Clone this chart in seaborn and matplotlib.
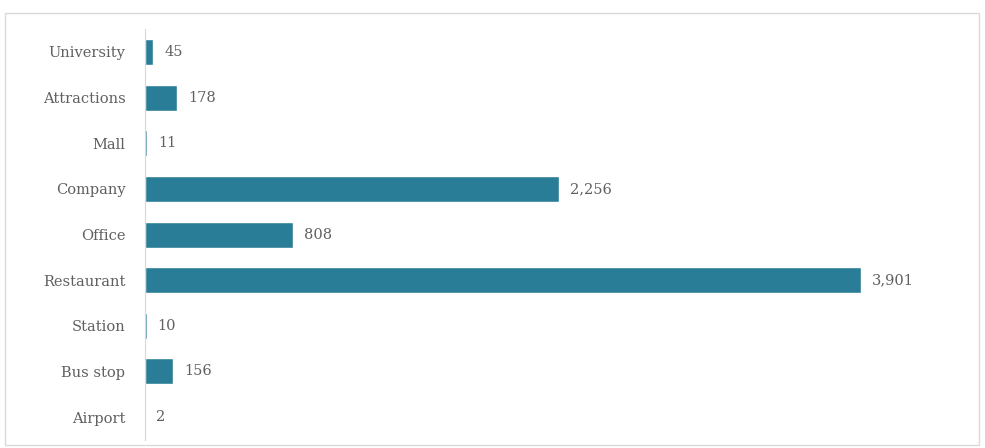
import matplotlib
matplotlib.use("Agg")
import matplotlib.pyplot as plt
import seaborn as sns
import pandas as pd
from matplotlib.patches import Rectangle

categories = ["University", "Attractions", "Mall", "Company", "Office",
              "Restaurant", "Station", "Bus stop", "Airport"]
values = [45, 178, 11, 2256, 808, 3901, 10, 156, 2]

df = pd.DataFrame({"category": categories, "count": values})

sns.set_theme(style="white")
plt.rcParams['font.family'] = ['DejaVu Serif']

fig = plt.figure(figsize=(9.85, 4.48), dpi=100)
ax = fig.add_axes([0.147, 0.018, 0.828, 0.917])

sns.barplot(data=df, y="category", x="count", orient="h", color="#2a7d96",
            width=0.57, ax=ax, saturation=1)

ax.set_xlim(0, 4441)
ax.set_ylim(8.5, -0.5)
ax.set_xlabel("")
ax.set_ylabel("")
ax.set_xticks([])
for s in ["top", "right", "bottom"]:
    ax.spines[s].set_visible(False)
ax.spines["left"].set_color("#d8d8d8")
ax.spines["left"].set_linewidth(0.8)
ax.tick_params(axis="y", length=0, pad=14, labelsize=10.5, labelcolor="#606060")

for i, v in enumerate(values):
    ax.text(v + 60, i, f"{v:,}", va="center", ha="left", fontsize=10.5,
            color="#606060")

fig.patches.append(Rectangle((0.005, 0.007), 0.989, 0.965, transform=fig.transFigure,
                             fill=False, edgecolor="#d9d9d9", linewidth=1.0))

fig.savefig("out.png", dpi=100)
